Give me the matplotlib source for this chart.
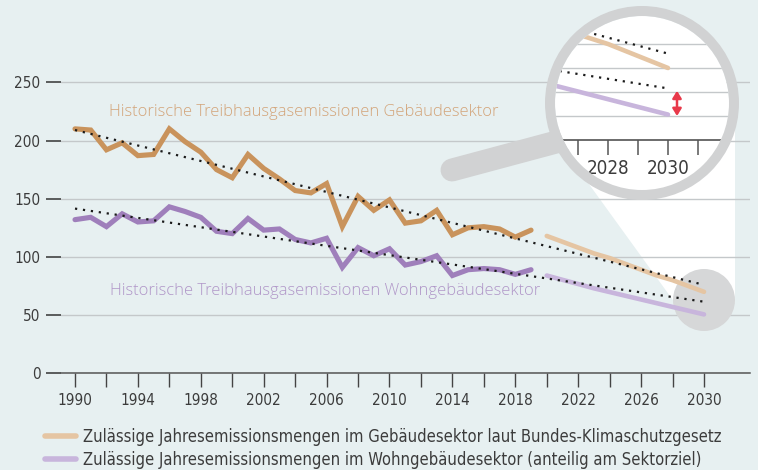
import matplotlib
matplotlib.use("Agg")
import matplotlib.pyplot as plt
import matplotlib.transforms as mtransforms
from matplotlib.patches import Circle, Polygon
from matplotlib.lines import Line2D

# --- data (Mio. t CO2-Äq.) ---
hist_years = list(range(1990, 2020))
hist_gebaeude = [210, 209, 192, 198, 187, 188, 210, 199, 190, 175,
                 168, 188, 176, 167, 157, 155, 163, 126, 152, 140,
                 149, 129, 131, 140, 119, 125, 126, 124, 117, 123]
hist_wohn = [132, 134, 126, 137, 130, 131, 143, 139, 134, 122,
             120, 133, 123, 124, 115, 112, 116, 91, 108, 101,
             107, 93, 96, 101, 84, 89, 90, 89, 85, 89]

target_years = list(range(2020, 2031))
target_gebaeude = [118, 113, 108, 103, 99, 94, 89, 84, 80, 75, 70]
target_wohn = [84, 80.3, 76.7, 73, 69.8, 66.6, 63.4, 60.2, 57, 53.8, 50.6]

trend_years = [1990, 2030]
trend_gebaeude = [209, 76]
trend_wohn = [141.5, 61.5]

gap_year = 2030.3
gap_values = [60.5, 50]

y_ticks = [0, 50, 100, 150, 200, 250]
x_ticks = list(range(1990, 2031, 2))
x_labels = [str(y) if (y - 1990) % 4 == 0 else "" for y in x_ticks]

zoom_grid = [50, 60, 70, 80]
zoom_ticks = list(range(2026, 2032))
zoom_labels = [2028, 2030]

label_geb = "Historische Treibhausgasemissionen Gebäudesektor"
label_wohn = "Historische Treibhausgasemissionen Wohngebäudesektor"
legend_labels = [
    "Zulässige Jahresemissionsmengen im Gebäudesektor laut Bundes-Klimaschutzgesetz",
    "Zulässige Jahresemissionsmengen im Wohngebäudesektor (anteilig am Sektorziel)",
]

# --- colours ---
bg = "#e7f0f1"
c_geb = "#c9935c"
c_geb_light = "#e5c5a3"
c_wohn = "#9f7fbb"
c_wohn_light = "#c8b5dc"
c_grid = "#c4c8ca"
c_lens = "#d1d2d3"
c_text = "#3c3c3c"

W, H = 758, 470
fig = plt.figure(figsize=(W / 100, H / 100), dpi=100, facecolor=bg)
pix = mtransforms.Affine2D().scale(1 / W, -1 / H).translate(0, 1) + fig.transFigure

tick_font = dict(family="DejaVu Sans", stretch="condensed", size=11)
label_font = dict(family="Open Sans", weight="light", size=11.9)

# main axes: 1990 at x=75px, 15.725 px/year; 0 at y=373.3px, 1.164 px/unit
ax_l, ax_r, ax_b, ax_t = 61, 750, 373.3, 35.6
ax = fig.add_axes([ax_l / W, 1 - ax_b / H, (ax_r - ax_l) / W, (ax_b - ax_t) / H])
ax.set_facecolor(bg)
ax.set_xlim(1990 - (75 - ax_l) / 15.725, 1990 + (ax_r - 75) / 15.725)
ax.set_ylim(0, (ax_b - ax_t) / 1.164)

for s in ["top", "right", "left"]:
    ax.spines[s].set_visible(False)
ax.spines["bottom"].set_color("#555555")
ax.spines["bottom"].set_linewidth(1.1)

ax.set_yticks(y_ticks)
ax.set_yticklabels([str(v) for v in y_ticks], fontdict=tick_font, color=c_text)
ax.set_xticks(x_ticks)
ax.set_xticklabels(x_labels, fontdict=tick_font, color=c_text)
ax.tick_params(axis="y", length=10.8, width=1.1, color="#333333", pad=4)
ax.tick_params(axis="x", length=10, width=1.0, color="#444444", pad=4.5)
ax.grid(axis="y", color=c_grid, lw=1.0)
ax.set_axisbelow(True)

# white beam from small circle to the lens
beam = Polygon([(586, 180), (675, 303), (735, 303), (735, 100), (642, 100)],
               closed=True, transform=pix, facecolor="white", edgecolor="none",
               zorder=0.3, clip_on=False)
ax.add_patch(beam)
ax.add_patch(Circle((704, 300), 31, transform=pix, facecolor="#d6d7d8",
                    edgecolor="none", zorder=1, clip_on=False))

# target paths
ax.plot(target_years, target_gebaeude, color=c_geb_light, lw=3.3,
        solid_capstyle="round", zorder=2)
ax.plot(target_years, target_wohn, color=c_wohn_light, lw=3.3,
        solid_capstyle="round", zorder=2)
# history
ax.plot(hist_years, hist_gebaeude, color=c_geb, lw=3.7,
        solid_capstyle="round", solid_joinstyle="miter", zorder=2.5)
ax.plot(hist_years, hist_wohn, color=c_wohn, lw=3.7,
        solid_capstyle="round", solid_joinstyle="miter", zorder=2.5)
# trends
dots = (0, (1, 2.6))
ax.plot(trend_years, trend_gebaeude, color="#1a1a1a", lw=1.6, ls=dots, zorder=3)
ax.plot(trend_years, trend_wohn, color="#1a1a1a", lw=1.6, ls=dots, zorder=3)

ax.text(1992.16, 224.5, label_geb, color="#d3a479", va="center", ha="left",
        fontdict=label_font)
ax.text(1992.2, 70.7, label_wohn, color="#b096c8", va="center", ha="left",
        fontdict=label_font)

# magnifier handle
ax.add_line(Line2D([452, 575], [170, 137], transform=pix, color=c_lens,
                   lw=16.5, solid_capstyle="round", zorder=10, clip_on=False))

# lens: inner radius 87px centred at (642, 103)
cx, cy, r = 642, 103, 87
zx = fig.add_axes([(cx - r) / W, 1 - (cy + r) / H, 2 * r / W, 2 * r / H])
zx.set_xlim(2030 - (668 - (cx - r)) / 30, 2030 + ((cx + r) - 668) / 30)
zx.set_ylim(40 - ((cy + r) - 140) / 2.4, 40 + (140 - (cy - r)) / 2.4)
zx.axis("off")
lens = Circle((0.5, 0.5), 0.5, transform=zx.transAxes, facecolor="white",
              edgecolor="none", zorder=0)
zx.add_patch(lens)
for v in zoom_grid:
    zx.axhline(v, color=c_grid, lw=1.0, zorder=1, clip_path=lens)
zx.axhline(40, color="#444444", lw=1.1, zorder=1, clip_path=lens)
zx.vlines(zoom_ticks, 40 - 15 / 2.4, 40, color="#555555", lw=1.1, zorder=1,
          clip_path=lens)
for yr in zoom_labels:
    zx.text(yr, 40 - 28 / 2.4, str(yr), ha="center", va="center", color=c_text,
            fontdict=dict(family="DejaVu Sans", stretch="condensed", size=13.5))
zx.plot(target_years, target_gebaeude, color=c_geb_light, lw=3.3,
        solid_capstyle="round", zorder=2, clip_path=lens)
zx.plot(target_years, target_wohn, color=c_wohn_light, lw=3.3,
        solid_capstyle="round", zorder=2, clip_path=lens)
zx.plot(trend_years, trend_gebaeude, color="#1a1a1a", lw=1.6, ls=dots, zorder=3,
        clip_path=lens)
zx.plot(trend_years, trend_wohn, color="#1a1a1a", lw=1.6, ls=dots, zorder=3,
        clip_path=lens)
zx.annotate("", xy=(gap_year, gap_values[1]), xytext=(gap_year, gap_values[0]),
            arrowprops=dict(arrowstyle="<|-|>,head_length=0.42,head_width=0.26",
                            color="#e8394a", lw=1.8, shrinkA=0, shrinkB=0),
            zorder=4)
zx.add_patch(Circle((0.5, 0.5), 92 / (2 * r), transform=zx.transAxes, fill=False,
                    edgecolor=c_lens, lw=7.2, zorder=5, clip_on=False))

# legend
handles = [Line2D([], [], color=c_geb_light, lw=4, solid_capstyle="round"),
           Line2D([], [], color=c_wohn_light, lw=4, solid_capstyle="round")]
fig.legend(handles, legend_labels, loc="upper left",
           bbox_to_anchor=(45 / W, 1 - 428 / H), frameon=False,
           prop=dict(family="DejaVu Sans", stretch="condensed", size=11.9),
           labelcolor=c_text, handlelength=1.85, handletextpad=0.45,
           labelspacing=0.28, borderpad=0, borderaxespad=0)

fig.savefig("out.png", dpi=100, facecolor=bg)
